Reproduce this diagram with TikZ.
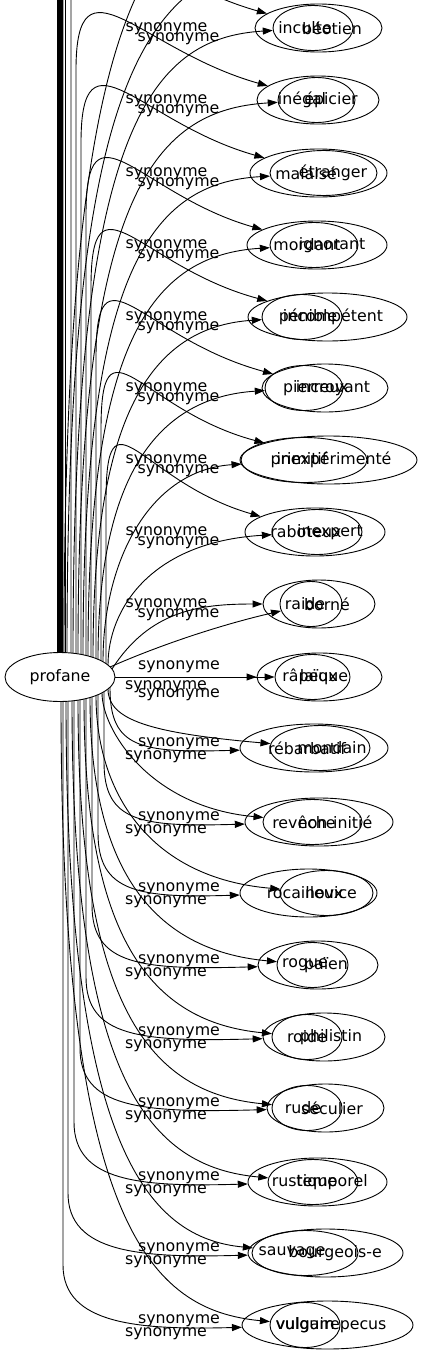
\documentclass[tikz,border=0pt]{standalone}
\usepackage{fontspec}
\setmainfont{DejaVu Sans}
\usetikzlibrary{arrows.meta,calc,shapes.geometric}
\tikzset{
  syn/.style={ellipse,draw,line width=0.9pt,inner sep=0pt},
  word/.style={inner sep=0pt},
  lbl/.style={inner sep=0pt},
  edge/.style={-{Triangle[length=10pt,width=7pt]},line width=0.9pt},
}
\begin{document}
\begin{tikzpicture}[x=1pt,y=-1pt,line join=round,font=\fontsize{15.8}{19}\selectfont]
\useasboundingbox (0,0) rectangle (424,1355);
\clip (0,0) rectangle (424,1355);
% --- source
\node[syn,minimum width=110pt,minimum height=49pt] (profane) at (60,677) {profane};
% --- targets: wide ellipse (a) and narrow ellipse (b) on each row
\foreach \k/\ry/\ta/\ax/\aw/\tx/\tb/\bx/\bw/\ux in {
  1/28/béotien/318.5/127/332/inculte/313/80/305,
  2/100/épicier/318/122/331/inégal/316.5/77/302,
  3/173/étranger/318.5/137/333/malaisé/323.5/107/306,
  4/245/ignorant/317/140/332/mordant/314/88/307,
  5/317/incompétent/327.5/159/333/pénible/302/80/308,
  6/388/incroyant/325/126/333/pierreux/304/78/316,
  7/460/inexpérimenté/328.5/177/334/primitif/304/126/299,
  8/532/inexpert/315/140/330/raboteux/317/90/306,
  9/604/borné/319/112/327/raide/311/62/305,
  10/677/laïque/319.5/125/324/râpeux/312.5/75/310,
  11/748/mondain/314/148/332/rébarbatif/320/100/307,
  12/822/non-initié/319/148/335/revêche/312.5/99/304,
  13/893/novice/308.5/137/331/rocailleux/326.5/93/305,
  14/965/païen/318/120/326/rogue/312.5/71/305,
  15/1037/philistin/324/122/331/roide/307/70/307,
  16/1108/séculier/325.5/117/332/rude/307/70/303,
  17/1182/temporel/317.5/139/332/rustique/313/90/304.5,
  18/1253/bourgeois-e/325.5/155/335/sauvage/305/106/292,
  19/1325/vulgum pecus/327.5/171/331/vulgaire/305/70/308}{
  \node[syn,minimum width=\aw*1pt,minimum height=48pt] (a\k) at (\ax,\ry) {};
  \node[syn,minimum width=\bw*1pt,minimum height=45pt] (b\k) at (\bx,\ry) {};
  \node[word] (ta\k) at (\tx,\ry) {\ta};
  \node[word] (tb\k) at (\ux,\ry) {\tb};
}
% --- edges running out of the top
\foreach \x [count=\i] in {57,58,59,60,61,62}{
  \coordinate (up\i) at (\x,-20);
  \draw[line width=0.9pt] ($(profane)+({\x-60},{-24.5*sqrt(1-((\x-60)/55)^2)})$) -- (up\i);
}
\foreach \j/\ry/\xa/\xb in {0/-116/63/64,1/-44/65.5/67}{
  \coordinate (ua\j) at (318,\ry);
  \coordinate (ub\j) at (310,\ry);
  \draw[edge] ($(profane)+({\xa-60},{-24.5*sqrt(1-((\xa-60)/55)^2)})$) -- (\xa,\ry-30)
    .. controls (\xa,\ry-150) and (140,\ry-50) .. (ua\j);
  \draw[edge] ($(profane)+({\xb-60},{-24.5*sqrt(1-((\xb-60)/55)^2)})$)
    .. controls (\xb,\ry+100) and (150,\ry+10) .. (ub\j);
}
% --- upper rows
\foreach \k/\ry/\xa/\xb/\cb in {1/28/71/73/128,2/100/76/78/200,3/173/81/83/273,
  4/245/86/88/345,5/317/91/93/417,6/388/96/98/488,7/460/101/103/560,8/532/106/108/610}{
  \draw[edge] ($(profane)+({\xa-60},{-24.5*sqrt(1-((\xa-60)/55)^2)})$) -- (\xa,\ry-30)
    .. controls (\xa,\ry-150) and (140,\ry-50) .. (a\k);
  \draw[edge] ($(profane)+({\xb-60},{-24.5*sqrt(1-((\xb-60)/55)^2)})$)
    .. controls (\xb,\cb) and (150,\ry+10) .. (b\k);
}
\draw[edge] ($(profane)+(52,-8)$) .. controls (150,610) and (200,604) .. (a9);
\draw[edge] ($(profane)+(50,-10)$) .. controls (160,645) and (220,625) .. (b9);
% --- middle row
\draw[edge] (profane) -- (a10);
\draw[edge] (profane) -- (b10);
% --- lower rows
\foreach \k/\ry/\xa/\xb/\cb in {11/748/110/108/720,12/822/104/102/730,13/893/98/96/793,
  14/965/92/90/865,15/1037/86/84/937,16/1108/80/78/1008,17/1182/74/72/1082,
  18/1253/68/66/1153,19/1325/63/61/1225}{
  \draw[edge] ($(profane)+({\xb-60},{24.5*sqrt(1-((\xb-60)/55)^2)})$)
    .. controls (\xb,\cb) and (150,\ry-15) .. (b\k);
  \draw[edge] ($(profane)+({\xa-60},{24.5*sqrt(1-((\xa-60)/55)^2)})$) -- (\xa,\ry-60)
    .. controls (\xa,\ry) and (140,\ry+5) .. (a\k);
}
% --- edge labels
\foreach \k/\ry in {1/28,2/100,3/173,4/245,5/317,6/388,7/460,8/532,9/604}{
  \node[lbl] (la\k) at (166.5,\ry+1) {synonyme};
  \node[lbl] (lb\k) at (178.5,\ry+11) {synonyme};
}
\node[lbl] (la10) at (179,667) {synonyme};
\node[lbl] (lb10) at (166,687) {synonyme};
\node[lbl] (lc10) at (179,695) {synonyme};
\foreach \k/\ry in {11/748,12/822,13/893,14/965,15/1037,16/1108,17/1182,18/1253,19/1325}{
  \node[lbl] (la\k) at (179,\ry-4) {synonyme};
  \node[lbl] (lb\k) at (166,\ry+9) {synonyme};
}
\end{tikzpicture}
\end{document}
